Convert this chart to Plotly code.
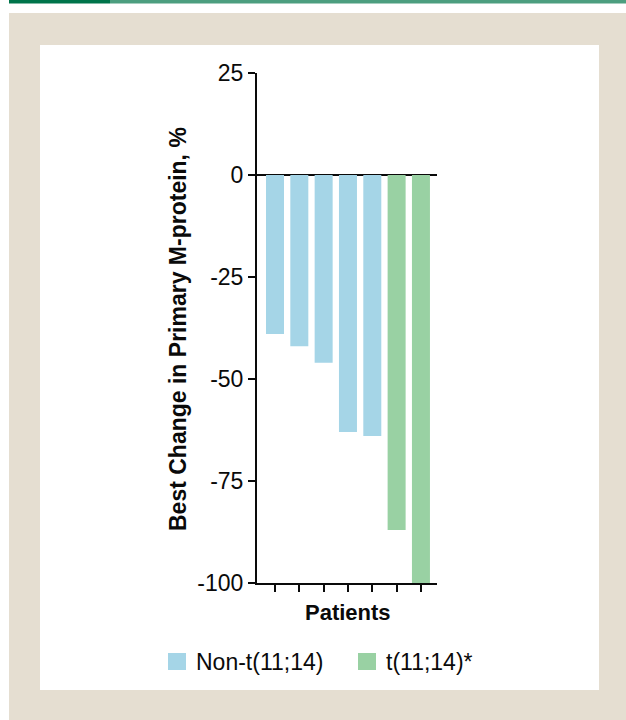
import plotly.graph_objects as go

# Best change in primary M-protein per patient (%)
patients = [1, 2, 3, 4, 5, 6, 7]
best_change = [-39, -42, -46, -63, -64, -87, -100]
group = ["Non-t(11;14)"] * 5 + ["t(11;14)*"] * 2

group_colors = {"Non-t(11;14)": "#A5D5E7", "t(11;14)*": "#99D1A3"}
y_ticks = [25, 0, -25, -50, -75, -100]
y_tick_labels = ["25", "0", "-25", "-50", "-75", "-100"]

W, H = 626, 720
# plot area in pixels
PL, PR, PT, PB = 257, 437, 73, 583


def px_x(x):
    return (x - PL) / (PR - PL)


def px_y(y):
    return (PB - y) / (PB - PT)


fig = go.Figure()
fig.add_trace(go.Bar(
    x=patients,
    y=best_change,
    marker=dict(color=[group_colors[g] for g in group], line=dict(width=0)),
    width=0.74,
    showlegend=False,
    hoverinfo="x+y",
))

shapes = [
    # page background
    dict(type="rect", xref="paper", yref="paper", layer="below",
         x0=px_x(9), x1=px_x(626), y0=px_y(13), y1=px_y(720),
         fillcolor="#E5DED1", line=dict(width=0)),
    dict(type="rect", xref="paper", yref="paper", layer="below",
         x0=px_x(40), x1=px_x(599), y0=px_y(45), y1=px_y(690),
         fillcolor="#FFFFFF", line=dict(width=0)),
    # header rule
    dict(type="rect", xref="paper", yref="paper", layer="below",
         x0=px_x(9), x1=px_x(110), y0=px_y(0), y1=px_y(3.5),
         fillcolor="#00744A", line=dict(width=0)),
    dict(type="rect", xref="paper", yref="paper", layer="below",
         x0=px_x(110), x1=px_x(626), y0=px_y(0), y1=px_y(3.5),
         fillcolor="#4C9E7F", line=dict(width=0)),
]

annotations = [
    dict(text="<b>Best Change in Primary M-protein, %</b>", textangle=-90,
         xref="paper", yref="paper", x=px_x(178), y=px_y(329),
         xanchor="center", yanchor="middle", showarrow=False,
         font=dict(size=23, color="#0A0A0A")),
    dict(text="<b>Patients</b>",
         xref="paper", yref="paper", x=px_x(348), y=px_y(612),
         xanchor="center", yanchor="middle", showarrow=False,
         font=dict(size=22, color="#0A0A0A")),
]

# legend keys drawn as squares with labels
legend_items = [("Non-t(11;14)", 168), ("t(11;14)*", 358)]
for name, left in legend_items:
    shapes.append(dict(type="rect", xref="paper", yref="paper",
                       x0=px_x(left), x1=px_x(left + 18),
                       y0=px_y(670), y1=px_y(653),
                       fillcolor=group_colors[name], line=dict(width=0)))
    annotations.append(dict(text=name, xref="paper", yref="paper",
                            x=px_x(left + 26), y=px_y(662),
                            xanchor="left", yanchor="middle", showarrow=False,
                            font=dict(size=23, color="#0A0A0A")))

fig.update_layout(
    width=W, height=H,
    margin=dict(l=PL, r=W - PR, t=PT, b=H - PB, pad=0),
    paper_bgcolor="#FFFFFF",
    plot_bgcolor="rgba(0,0,0,0)",
    font=dict(family="Liberation Sans, Arial, sans-serif", color="#0A0A0A"),
    shapes=shapes,
    annotations=annotations,
)
fig.update_xaxes(
    range=[0.26, 7.66], tickvals=patients, ticktext=[""] * len(patients),
    ticks="outside", ticklen=7, tickwidth=2, tickcolor="#0A0A0A",
    showline=True, linewidth=2, linecolor="#0A0A0A",
    showgrid=False, zeroline=False, fixedrange=True,
)
fig.update_yaxes(
    range=[-100, 25], tickvals=y_ticks, ticktext=y_tick_labels,
    ticks="outside", ticklen=7, tickwidth=2, tickcolor="#0A0A0A",
    tickfont=dict(size=23, color="#0A0A0A"),
    showline=True, linewidth=2, linecolor="#0A0A0A",
    showgrid=False, zeroline=True, zerolinecolor="#0A0A0A", zerolinewidth=2,
    fixedrange=True,
)

fig.write_html("out.html")
